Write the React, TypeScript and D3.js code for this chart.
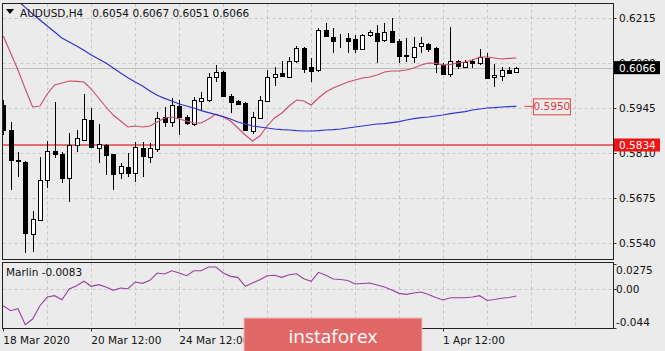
import React from "react";
import * as d3 from "d3";

// ---- data ----
const opens = [0.5954,0.5879,0.5789,0.5783,0.5567,0.5609,0.5729,0.5816,0.5807,0.5735,0.5834,0.5849,0.5909,0.5825,0.5834,0.5807,0.5750,0.5768,0.5750,0.5825,0.5798,0.5822,0.5918,0.5903,0.5951,0.5918,0.5897,0.5966,0.5969,0.6038,0.6053,0.5981,0.5966,0.5960,0.5876,0.5915,0.5966,0.6038,0.6050,0.6038,0.6086,0.6125,0.6068,0.6059,0.6179,0.6158,0.6149,0.6155,0.6152,0.6122,0.6164,0.6170,0.6149,0.6176,0.6146,0.6104,0.6098,0.6131,0.6137,0.6125,0.6074,0.6047,0.6086,0.6068,0.6086,0.6080,0.6095,0.6038,0.6041,0.6059,0.6054];
const highs = [0.5969,0.5903,0.5813,0.5786,0.5636,0.5798,0.5846,0.5963,0.5813,0.5870,0.5879,0.5987,0.5945,0.5897,0.5837,0.5807,0.5780,0.5810,0.5843,0.5843,0.5840,0.5933,0.5948,0.5975,0.5969,0.5924,0.5978,0.5993,0.6050,0.6074,0.6056,0.5987,0.5969,0.5963,0.5933,0.5981,0.6059,0.6068,0.6086,0.6098,0.6131,0.6128,0.6095,0.6185,0.6200,0.6185,0.6167,0.6170,0.6164,0.6167,0.6179,0.6194,0.6200,0.6215,0.6152,0.6155,0.6158,0.6158,0.6140,0.6128,0.6080,0.6188,0.6089,0.6089,0.6092,0.6122,0.6110,0.6077,0.6068,0.6068,0.6067];
const lows = [0.5864,0.5699,0.5738,0.5510,0.5513,0.5606,0.5705,0.5795,0.5720,0.5663,0.5813,0.5849,0.5825,0.5780,0.5744,0.5699,0.5732,0.5738,0.5723,0.5738,0.5780,0.5813,0.5888,0.5888,0.5864,0.5894,0.5891,0.5939,0.5963,0.6023,0.5978,0.5930,0.5954,0.5876,0.5867,0.5912,0.5963,0.6011,0.6038,0.6035,0.6080,0.6050,0.6023,0.6053,0.6158,0.6110,0.6125,0.6110,0.6110,0.6119,0.6158,0.6080,0.6143,0.6143,0.6080,0.6083,0.6080,0.6110,0.6113,0.6050,0.6044,0.6038,0.6062,0.6065,0.6065,0.6074,0.6035,0.6008,0.6026,0.6047,0.6051];
const closes = [0.5879,0.5789,0.5786,0.5570,0.5612,0.5729,0.5816,0.5807,0.5735,0.5834,0.5855,0.5912,0.5828,0.5837,0.5804,0.5747,0.5771,0.5750,0.5828,0.5801,0.5825,0.5915,0.5903,0.5954,0.5918,0.5900,0.5969,0.5975,0.6038,0.6053,0.5981,0.5963,0.5957,0.5879,0.5918,0.5969,0.6038,0.6047,0.6041,0.6086,0.6125,0.6062,0.6056,0.6179,0.6161,0.6146,0.6148,0.6146,0.6122,0.6164,0.6173,0.6146,0.6173,0.6143,0.6101,0.6101,0.6128,0.6140,0.6122,0.6077,0.6047,0.6086,0.6071,0.6083,0.6080,0.6098,0.6035,0.6044,0.6059,0.6050,0.6066];

const fastMA = [0.6161,0.6110,0.6059,0.6002,0.5948,0.5951,0.5987,0.6014,0.6020,0.6026,0.6025,0.6023,0.6002,0.5975,0.5948,0.5924,0.5906,0.5888,0.5891,0.5888,0.5891,0.5903,0.5915,0.5918,0.5912,0.5906,0.5900,0.5900,0.5912,0.5927,0.5918,0.5906,0.5885,0.5864,0.5846,0.5861,0.5891,0.5915,0.5930,0.5951,0.5969,0.5966,0.5954,0.5975,0.5993,0.6005,0.6014,0.6023,0.6029,0.6035,0.6038,0.6044,0.6053,0.6056,0.6056,0.6059,0.6065,0.6074,0.6080,0.6079,0.6074,0.6076,0.6080,0.6083,0.6089,0.6098,0.6098,0.6095,0.6092,0.6094,0.6095];
const slowMA = [0.6305,0.6284,0.6266,0.6247,0.6227,0.6209,0.6191,0.6173,0.6155,0.6143,0.6131,0.6118,0.6104,0.6092,0.6080,0.6065,0.6050,0.6036,0.6023,0.6011,0.5996,0.5983,0.5974,0.5966,0.5957,0.5951,0.5945,0.5937,0.5931,0.5925,0.5919,0.5912,0.5903,0.5897,0.5891,0.5888,0.5885,0.5882,0.5880,0.5879,0.5877,0.5876,0.5876,0.5877,0.5879,0.5880,0.5882,0.5885,0.5888,0.5891,0.5894,0.5897,0.5898,0.5901,0.5904,0.5909,0.5913,0.5916,0.5918,0.5921,0.5924,0.5928,0.5931,0.5934,0.5939,0.5942,0.5945,0.5946,0.5948,0.5949,0.5950];
const marlin = [-0.0191,-0.0247,-0.0225,-0.0403,-0.0340,-0.0191,-0.0094,-0.0079,-0.0124,-0.0004,0.0032,0.0082,0.0026,0.0044,0.0018,-0.0019,0.0007,-0.0001,0.0074,0.0059,0.0093,0.0174,0.0163,0.0200,0.0174,0.0144,0.0200,0.0200,0.0241,0.0241,0.0174,0.0137,0.0126,0.0026,0.0063,0.0099,0.0144,0.0149,0.0126,0.0155,0.0166,0.0111,0.0082,0.0182,0.0149,0.0107,0.0102,0.0091,0.0051,0.0057,0.0063,0.0040,0.0018,-0.0016,-0.0053,-0.0064,-0.0049,-0.0038,-0.0066,-0.0099,-0.0127,-0.0102,-0.0102,-0.0102,-0.0094,-0.0079,-0.0133,-0.0122,-0.0108,-0.0099,-0.0083];

const priceTicks = [0.6215, 0.6080, 0.5945, 0.5810, 0.5675, 0.5540];
const marlinTicks = [0.0275, 0.0, -0.044];
const marlinTickLabels = ["0.0275", "0.00", "-0.044"];
const timeLabelBars = [0, 12, 24, 60];
const timeLabels = ["18 Mar 2020", "20 Mar 12:00", "24 Mar 12:00", "1 Apr 12:00"];
const supportLevel = 0.5834;
const maLevelLabel = 0.5950;
const title = "AUDUSD,H4";
const ohlcTitle = ["0.6054", "0.6067", "0.6051", "0.6066"];
const indicatorTitle = "Marlin -0.0083";

// ---- layout ----
const W = 665, H = 351;
const L = 2.5, R = 613.5, T = 3.5, MB = 259.5, IT = 262.5, IB = 328.5;
const FONT = "'DejaVu Sans', sans-serif";
const BG = "#ebebeb";

export default function App() {
  const n = closes.length;
  const x = d3.scaleLinear().domain([0, 70]).range([3.3, 516.4]);
  const y = d3.scaleLinear().domain([0.5540, 0.6215]).range([243, 18]);
  const ym = d3.scaleLinear().domain([-0.044, 0.0275]).range([328, 264]);
  const idx = d3.range(n);
  const lineP = (arr: number[]) =>
    d3.line<number>().x((i) => x(i)).y((i) => y(arr[i]))(idx) || "";
  const marlinPath = d3.line<number>().x((i) => x(i)).y((i) => ym(marlin[i]))(idx) || "";
  const gridXs = d3.range(6, 84, 6).map((b) => Math.round(x(b)) + 0.5).filter((v) => v < R);
  const lastClose = closes[n - 1];
  const ly = (v: number) => Math.round(y(v)) + 0.5;

  return (
    <svg width={W} height={H} style={{ position: "absolute", left: 0, top: 0, background: BG }}
      fontFamily={FONT}>
      <defs>
        <clipPath id="mainClip"><rect x={L} y={T} width={R - L} height={MB - T} /></clipPath>
        <clipPath id="indClip"><rect x={L} y={IT} width={R - L} height={IB - IT} /></clipPath>
      </defs>
      <rect x={0} y={0} width={W} height={H} fill={BG} />
      {/* grids */}
      <g stroke="#c6c6c6" strokeDasharray="3,3" strokeWidth={1}>
        {gridXs.map((gx) => (
          <g key={gx}>
            <line x1={gx} x2={gx} y1={T} y2={MB} />
            <line x1={gx} x2={gx} y1={IT} y2={IB} />
          </g>
        ))}
        {priceTicks.map((t) => (
          <line key={t} x1={L} x2={R} y1={ly(t)} y2={ly(t)} />
        ))}
        <line x1={L} x2={R} y1={Math.round(ym(0)) + 0.5} y2={Math.round(ym(0)) + 0.5} />
      </g>
      {/* current price line */}
      <line x1={L} x2={R} y1={ly(lastClose)} y2={ly(lastClose)} stroke="#bdbdbd" strokeWidth={1} />
      <g clipPath="url(#mainClip)">
        {/* support line */}
        <line x1={L} x2={R} y1={y(supportLevel)} y2={y(supportLevel)} stroke="#e84343" strokeWidth={1.5} />
        {/* candles */}
        {idx.map((i) => {
          const cx = Math.round(x(i));
          const o = opens[i], c = closes[i];
          const top = Math.round(y(Math.max(o, c)));
          const bot = Math.round(y(Math.min(o, c)));
          const bull = c >= o;
          return (
            <g key={i}>
              <line x1={cx + 0.5} x2={cx + 0.5} y1={Math.round(y(highs[i]))} y2={Math.round(y(lows[i]))} stroke="#000" strokeWidth={1} />
              <rect x={cx - 1.5} y={top + 0.5} width={4} height={Math.max(bot - top, 0)}
                fill={bull ? "#fff" : "#000"} stroke="#000" strokeWidth={1} />
            </g>
          );
        })}
        <path d={lineP(fastMA)} fill="none" stroke="#d04a6a" strokeWidth={1.1} />
        <path d={lineP(slowMA)} fill="none" stroke="#3333cc" strokeWidth={1.2} />
      </g>
      {/* MA level label */}
      <line x1={x(70) + 8} x2={x(70) + 17} y1={y(maLevelLabel)} y2={y(maLevelLabel)} stroke="#e84343" strokeWidth={1} />
      <rect x={x(70) + 17} y={y(maLevelLabel) - 7.5} width={37} height={16} fill={BG} stroke="#e84343" strokeWidth={1} />
      <text x={x(70) + 35.5} y={y(maLevelLabel) + 4} fontSize={10.5} fill="#e03a3a" textAnchor="middle">{maLevelLabel.toFixed(4)}</text>
      {/* indicator */}
      <g clipPath="url(#indClip)">
        <path d={marlinPath} fill="none" stroke="#9c3fa2" strokeWidth={1.1} />
      </g>
      {/* frames */}
      <rect x={L} y={T} width={R - L} height={MB - T} fill="none" stroke="#222" strokeWidth={1} />
      <rect x={L} y={IT} width={R - L} height={IB - IT} fill="none" stroke="#222" strokeWidth={1} />
      {/* price axis */}
      {priceTicks.map((t) => (
        <g key={t}>
          <line x1={R} x2={R + 3} y1={ly(t)} y2={ly(t)} stroke="#333" />
          <text x={619} y={y(t) + 4} fontSize={10.5} fill="#111">{t.toFixed(4)}</text>
        </g>
      ))}
      {/* indicator axis */}
      {marlinTicks.map((t, k) => (
        <g key={t}>
          <line x1={R} x2={R + 3} y1={Math.round(ym(t)) + 0.5} y2={Math.round(ym(t)) + 0.5} stroke="#333" />
          <text x={616} y={ym(t) + 4 + (k === 0 ? 6 : k === 2 ? -6 : 0)} fontSize={10.5} fill="#111">{marlinTickLabels[k]}</text>
        </g>
      ))}
      {/* current price label */}
      <rect x={614} y={y(lastClose) - 6.5} width={46} height={13} fill="#000" />
      <text x={619} y={y(lastClose) + 4} fontSize={10.5} fill="#fff">{lastClose.toFixed(4)}</text>
      {/* support label */}
      <rect x={614} y={y(supportLevel) - 6.5} width={46} height={13} fill="#f21414" />
      <text x={619} y={y(supportLevel) + 4} fontSize={10.5} fill="#fff">{supportLevel.toFixed(4)}</text>
      {/* time axis */}
      {timeLabelBars.map((b, k) => (
        <g key={b}>
          <line x1={Math.round(x(b)) + 0.5} x2={Math.round(x(b)) + 0.5} y1={IB} y2={IB + 3} stroke="#333" />
          <text x={x(b)} y={344} fontSize={10.5} fill="#111">{timeLabels[k]}</text>
        </g>
      ))}
      {/* titles */}
      <path d="M6,9 L14,9 L10,14 Z" fill="#000" />
      <text x={20} y={17} fontSize={10.5} fill="#111">
        {title}
        <tspan dx={9}>{ohlcTitle.join(" ")}</tspan>
      </text>
      <text x={6} y={276} fontSize={10.5} fill="#111">{indicatorTitle}</text>
      {/* watermark */}
      <rect x={244} y={318} width={178} height={36} fill="#e26868" stroke="#f2b8b8" strokeWidth={1} />
      <text x={333} y={343} fontSize={19} fill="#fff" textAnchor="middle" fontFamily="'Open Sans', 'DejaVu Sans', sans-serif">instaforex</text>
    </svg>
  );
}
